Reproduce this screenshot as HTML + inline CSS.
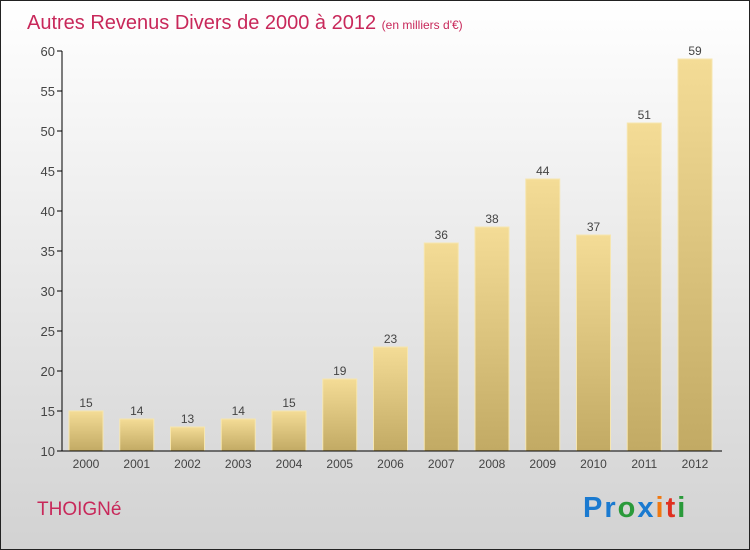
<!DOCTYPE html>
<html><head><meta charset="utf-8"><style>
body{margin:0}
#c{width:748px;height:548px;border:1px solid #222;background:linear-gradient(#ffffff,#d2d2d2);position:relative;font-family:"Liberation Sans",sans-serif}
</style></head><body>
<div id="c">
<svg width="748" height="548" style="position:absolute;left:0;top:0">
<defs><linearGradient id="bg" x1="0" y1="0" x2="0" y2="1"><stop offset="0" stop-color="#f4dc96"/><stop offset="1" stop-color="#c2aa64"/></linearGradient></defs>
<text x="26" y="28" font-size="20" fill="#c8285a">Autres Revenus Divers de 2000 à 2012 <tspan font-size="12">(en milliers d'€)</tspan></text>
<g id="g"></g>
<text x="36" y="514" font-size="19" fill="#c8285a">THOIGNé</text>
<g font-size="29" font-weight="bold" letter-spacing="2">
<text x="582" y="516"><tspan fill="#1a7ad0">Pr</tspan><tspan fill="#2a9a3a">o</tspan><tspan fill="#1a7ad0">x</tspan><tspan fill="#f07810">i</tspan><tspan fill="#e03020">t</tspan><tspan fill="#2a9a3a">i</tspan></text>
</g>
</svg>
</div>
<script>
const years=["2000","2001","2002","2003","2004","2005","2006","2007","2008","2009","2010","2011","2012"];
const values=[15,14,13,14,15,19,23,36,38,44,37,51,59];
const yTicks=[10,15,20,25,30,35,40,45,50,55,60];
const ns="http://www.w3.org/2000/svg",g=document.getElementById("g");
const y=v=>450-(v-10)*8, x=i=>85+i*50.75;
function el(t,a,txt){const e=document.createElementNS(ns,t);for(const k in a)e.setAttribute(k,a[k]);if(txt!=null)e.textContent=txt;g.appendChild(e);return e;}
yTicks.forEach(t=>{
const l=el("line",{x1:56,x2:61,y1:y(t),y2:y(t),stroke:"#000"});


const tx=el("text",{x:54,y:y(t)+5,"text-anchor":"end","font-size":"13",fill:"#444"},t);


});
values.forEach((v,i)=>{
const r=el("rect",{x:x(i)-17,y:y(v),width:34,height:450-y(v),fill:"url(#bg)",stroke:"#f6e6b0","stroke-width":1});


const t=el("text",{x:x(i),y:y(v)-4,"text-anchor":"middle","font-size":"12",fill:"#444"},v);


const xl=el("text",{x:x(i),y:467,"text-anchor":"middle","font-size":"12",fill:"#444"},years[i]);


});
const ya=el("line",{x1:61,x2:61,y1:50,y2:450,stroke:"#000"});


const xa=el("line",{x1:61,x2:721,y1:450,y2:450,stroke:"#000"});


</script>
</body></html>
